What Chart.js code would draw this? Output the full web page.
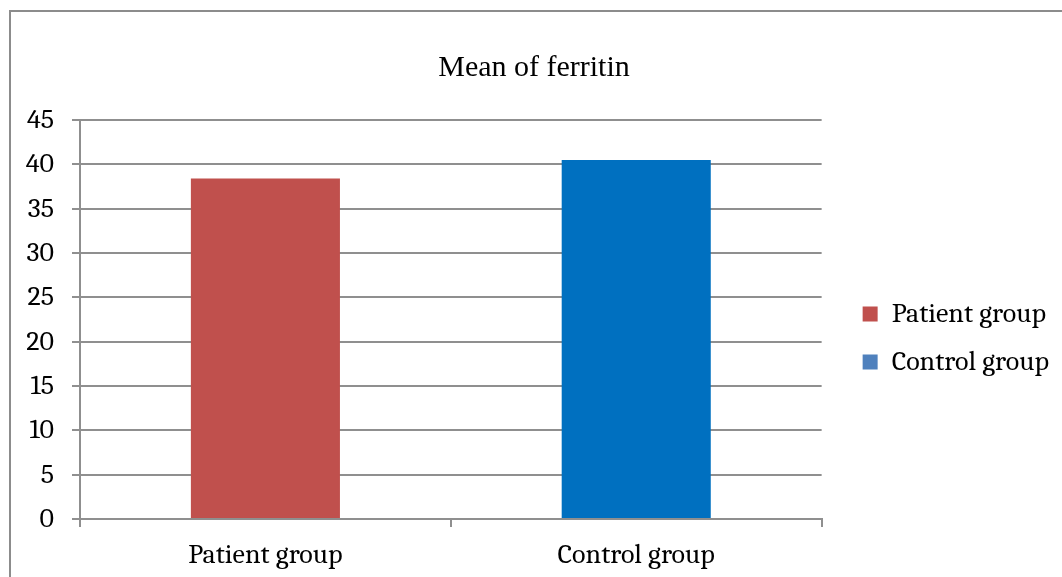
<!DOCTYPE html>
<html>
<head>
<meta charset="utf-8">
<title>Mean of ferritin</title>
<script src="https://cdn.jsdelivr.net/npm/chart.js@4"></script>
<style>
  html, body { margin: 0; padding: 0; background: #ffffff; }
  canvas { display: block; }
</style>
</head>
<body>
<canvas id="chart" width="1062" height="577"></canvas>
<script>
// Group names on the category axis and in the legend
const categories = ['Patient group', 'Control group'];
// Mean ferritin per group
const meanFerritin = [38.4, 40.5];
// Fill of each bar and of each legend swatch
const barColors = ['#C0504D', '#0070C0'];
const legendColors = ['#C0504D', '#4F81BD'];
// Value axis ticks
const yTickValues = [0, 5, 10, 15, 20, 25, 30, 35, 40, 45];

const serif = "Cambria, Caladea, 'Liberation Serif', 'Times New Roman', serif";
const gridGray = '#8f8f8f';

// Grey frame around the chart
const framePlugin = {
  id: 'frame',
  beforeDraw(chart) {
    const ctx = chart.ctx;
    ctx.save();
    ctx.fillStyle = '#ffffff';
    ctx.fillRect(0, 0, chart.width, chart.height);
    ctx.strokeStyle = '#8c8c8c';
    ctx.lineWidth = 2;
    ctx.beginPath();
    ctx.moveTo(10, chart.height + 2);
    ctx.lineTo(10, 11);
    ctx.lineTo(chart.width + 2, 11);
    ctx.stroke();
    ctx.restore();
  }
};

new Chart(document.getElementById('chart'), {
  type: 'bar',
  data: {
    labels: categories,
    datasets: [{
      label: 'Mean of ferritin',
      data: meanFerritin,
      backgroundColor: barColors,
      borderWidth: 0,
      categoryPercentage: 1,
      barPercentage: 0.402
    }]
  },
  options: {
    responsive: false,
    animation: false,
    devicePixelRatio: 1,
    layout: { padding: { left: 9, right: 3, top: 0, bottom: 0 } },
    plugins: {
      tooltip: { enabled: false },
      title: {
        display: true,
        text: 'Mean of ferritin',
        color: '#000000',
        font: { family: "'Times New Roman', 'Liberation Serif', serif", size: 30, weight: 'normal' },
        padding: { top: 50, bottom: 34 }
      },
      legend: {
        position: 'right',
        fullSize: false,
        maxWidth: 300,
        title: { display: true, text: '', font: { size: 1 }, padding: 18 },
        labels: {
          boxWidth: 15,
          boxHeight: 15,
          padding: 20,
          color: '#000000',
          font: { family: serif, size: 28 },
          generateLabels() {
            return categories.map((name, i) => ({
              text: name,
              fillStyle: legendColors[i],
              strokeStyle: legendColors[i],
              fontColor: '#000000',
              lineWidth: 0,
              hidden: false,
              index: i,
              datasetIndex: 0
            }));
          }
        }
      }
    },
    scales: {
      x: {
        offset: true,
        grid: {
          offset: true,
          drawOnChartArea: false,
          drawTicks: true,
          tickLength: 8,
          color: gridGray,
          lineWidth: 2
        },
        border: { display: true, color: gridGray, width: 2 },
        ticks: {
          color: '#000000',
          font: { family: serif, size: 28 },
          padding: 11,
          maxRotation: 0
        },
        afterFit(scale) { scale.height = 58; }
      },
      y: {
        min: 0,
        max: 45,
        grid: {
          drawTicks: true,
          tickLength: 8,
          color: gridGray,
          lineWidth: 2
        },
        border: { display: true, color: gridGray, width: 2 },
        ticks: {
          color: '#000000',
          font: { family: serif, size: 28 },
          padding: 18
        },
        afterBuildTicks(scale) {
          scale.ticks = yTickValues.map(v => ({ value: v }));
        },
        afterFit(scale) { scale.width = 71; }
      },
      // empty strip between the plot and the legend
      gap: {
        type: 'linear',
        position: 'right',
        display: true,
        grid: { display: false },
        border: { display: false },
        ticks: { display: false },
        afterFit(scale) { scale.width = 21; }
      }
    }
  },
  plugins: [framePlugin]
});
</script>
</body>
</html>
